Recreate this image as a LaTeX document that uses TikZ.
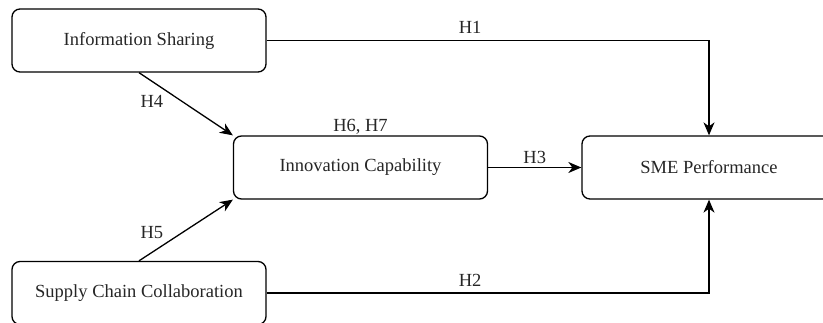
\documentclass[tikz,border=0pt]{standalone}
\usepackage{fontspec}
\setmainfont{Liberation Serif}
\usetikzlibrary{arrows.meta,positioning}

\begin{document}
\begin{tikzpicture}[x=1pt,y=1pt,
    box/.style={draw,line width=1.3pt,rounded corners=8pt,minimum width=254pt,minimum height=63pt,text=black!85,font=\fontsize{18.5}{22}\selectfont},
    hyp/.style={line width=1.3pt,-{Stealth[length=13pt,width=11pt,inset=4pt]}},
    lbl/.style={text=black!85,font=\fontsize{18.5}{22}\selectfont}]

     \clip (0,0) rectangle (823,322);

     % the four constructs
     \node[box] (info)   at (139,281.5) {Information Sharing};
     \node[box] (scc)    at (139,29)    {Supply Chain Collaboration};
     \node[box] (innov)  at (360.5,154.5) {Innovation Capability};
     \node[box] (sme)    at (709,154.5) {SME Performance};

     % mediator label
     \node[lbl,above=-3pt of innov] (h67) {H6, H7};

     % direct paths
     \draw[hyp] (info.east) -| (sme.north)
          node[lbl,pos=0.23,above,yshift=3pt] (h1) {H1};
     \draw[hyp] (scc.east) -| (sme.south)
          node[lbl,pos=0.23,above,yshift=3pt] (h2) {H2};
     \draw[hyp] (innov.east) -- (sme.west)
          node[lbl,midway,above] (h3) {H3};

     % paths into innovation capability
     \draw[hyp] (info.south) -- (innov.north west)
          node[lbl,pos=0.3,below left] (h4) {H4};
     \draw[hyp] (scc.north) -- (innov.south west)
          node[lbl,pos=0.3,above left] (h5) {H5};
\end{tikzpicture}
\end{document}
